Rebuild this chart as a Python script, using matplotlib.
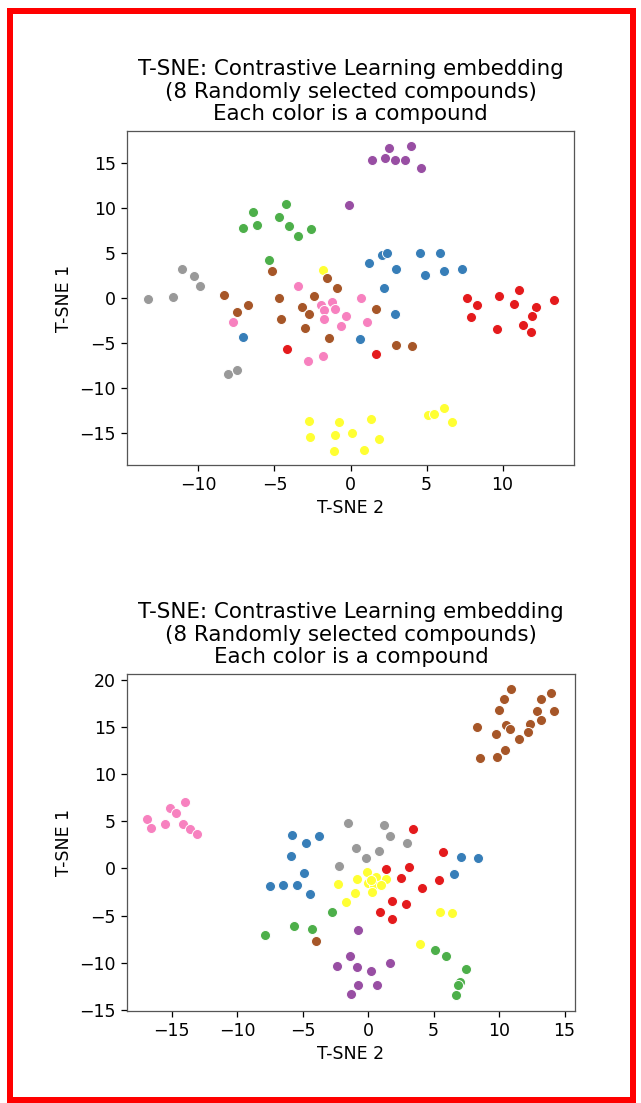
import matplotlib
matplotlib.use("Agg")
import matplotlib.pyplot as plt
from matplotlib.patches import Rectangle

# ---------------- data ----------------
compounds = ["red", "blue", "green", "purple", "yellow", "brown", "pink", "gray"]
palette = {"red": "#e41a1c", "blue": "#377eb8", "green": "#4daf4a", "purple": "#984ea3",
           "yellow": "#ffff33", "brown": "#a65628", "pink": "#f781bf", "gray": "#999999"}

title_text = "T-SNE: Contrastive Learning embedding\n(8 Randomly selected compounds)\nEach color is a compound"
xlabel_text = "T-SNE 2"
ylabel_text = "T-SNE 1"

# top panel
top_purple_x = [1.44, 2.25, 2.54, 2.91, 3.57, 4.0, 4.66, -0.11]
top_purple_y = [15.4, 15.6, 16.7, 15.4, 15.4, 16.9, 14.5, 10.4]
top_green_x = [-6.4, -4.25, -4.71, -6.18, -7.1, -4.05, -3.46, -2.61, -5.39]
top_green_y = [9.6, 10.5, 9.1, 8.2, 7.8, 8.0, 6.9, 7.7, 4.3]
top_blue_x = [1.2, 2.08, 2.37, 3.02, 4.55, 5.91, 4.93, 6.13, 7.36, 2.21, -7.06, 0.61, 2.91]
top_blue_y = [3.9, 4.8, 5.1, 3.3, 5.0, 5.1, 2.6, 3.0, 3.3, 1.2, -4.3, -4.5, -1.7]
top_gray_x = [-11.06, -10.3, -9.9, -13.3, -11.7, -8.08, -7.49]
top_gray_y = [3.3, 2.5, 1.4, -0.1, 0.2, -8.4, -7.9]
top_yellow_x = [-1.84, -2.72, -0.77, 1.38, -2.67, -1.03, 0.13, -1.08, 0.89, 1.88, 5.1, 5.47, 6.13, 6.68]
top_yellow_y = [3.2, -13.6, -13.7, -13.4, -15.4, -15.2, -14.9, -16.9, -16.8, -15.6, -13.0, -12.8, -12.2, -13.7]
top_brown_x = [-5.19, -1.54, -0.88, -8.32, -4.69, -2.41, -6.77, -7.45, -3.22, -2.72, -4.58, -3.0, -1.43, 1.66, 3.02, 4.05]
top_brown_y = [3.0, 2.3, 1.2, 0.4, 0.1, 0.3, -0.7, -1.5, -0.9, -1.7, -2.3, -3.3, -4.4, -1.2, -5.2, -5.3]
top_pink_x = [-3.48, 0.68, -7.75, -1.95, -1.21, -1.73, -0.99, -1.75, -0.31, -0.64, 1.09, -2.79, -1.84]
top_pink_y = [1.4, 0.1, -2.6, -0.7, -0.4, -1.3, -1.2, -2.3, -1.9, -3.1, -2.6, -6.9, -6.4]
top_red_x = [-4.17, 1.71, 7.68, 8.32, 7.95, 9.76, 10.73, 11.08, 12.23, 11.95, 11.34, 11.89, 9.63, 13.38]
top_red_y = [-5.6, -6.2, 0.0, -0.7, -2.1, 0.3, -0.6, 0.9, -1.0, -1.9, -3.0, -3.75, -3.4, -0.2]

# bottom panel
bot_brown_x = [10.95, 10.36, 10.0, 8.32, 10.51, 10.87, 9.75, 11.5, 10.44, 8.53, 9.85, 14.0, 13.18, 12.9, 14.23, 12.34, 13.24, 12.21, -3.99]
bot_brown_y = [19.0, 17.9, 16.8, 15.0, 15.2, 14.8, 14.2, 13.7, 12.6, 11.7, 11.8, 18.6, 17.9, 16.7, 16.7, 15.3, 15.7, 14.5, -7.7]
bot_pink_x = [-13.99, -15.14, -14.63, -16.87, -16.59, -15.47, -14.12, -13.61, -13.02]
bot_pink_y = [7.0, 6.4, 5.9, 5.2, 4.3, 4.7, 4.7, 4.2, 3.7]
bot_blue_x = [-5.77, -4.76, -3.74, -5.9, -4.89, -7.45, -6.49, -5.39, -4.4, 7.13, 8.4, 6.56]
bot_blue_y = [3.5, 2.7, 3.4, 1.3, -0.5, -1.9, -1.7, -1.7, -2.7, 1.2, 1.1, -0.6]
bot_gray_x = [-1.53, 1.2, 1.71, 2.98, -0.94, 0.84, -0.18, -2.21]
bot_gray_y = [4.8, 4.6, 3.4, 2.7, 2.2, 1.8, 1.1, 0.3]
bot_red_x = [3.44, 5.73, 1.4, 3.13, 2.55, 5.4, 4.12, 1.83, 2.93, 0.89, 1.83]
bot_red_y = [4.2, 1.7, -0.1, 0.2, -1.0, -1.2, -2.1, -3.5, -3.8, -4.6, -5.4]
bot_yellow_x = [-0.08, -0.81, 0.64, 1.35, 0.0, 0.46, 1.02, -2.29, -0.96, 0.34, -1.7, 5.53, 6.44, 4.0, 0.2]
bot_yellow_y = [-0.4, -1.1, -0.9, -1.1, -1.5, -1.7, -1.8, -1.6, -2.6, -2.5, -3.6, -4.6, -4.7, -8.0, -1.2]
bot_green_x = [-2.72, -5.67, -4.24, -7.89, 5.09, 5.98, 7.51, 7.05, 6.87, 6.69]
bot_green_y = [-4.6, -6.1, -6.4, -7.1, -8.6, -9.3, -10.6, -12.0, -12.3, -13.4]
bot_purple_x = [-0.76, -1.4, -2.37, -0.84, 0.26, 1.71, -0.76, 0.69, -1.32]
bot_purple_y = [-6.5, -9.3, -10.3, -10.4, -10.9, -10.0, -12.3, -12.3, -13.3]

top_series = {
    "red": (top_red_x, top_red_y), "blue": (top_blue_x, top_blue_y),
    "green": (top_green_x, top_green_y), "purple": (top_purple_x, top_purple_y),
    "yellow": (top_yellow_x, top_yellow_y), "brown": (top_brown_x, top_brown_y),
    "pink": (top_pink_x, top_pink_y), "gray": (top_gray_x, top_gray_y),
}
bot_series = {
    "red": (bot_red_x, bot_red_y), "blue": (bot_blue_x, bot_blue_y),
    "green": (bot_green_x, bot_green_y), "purple": (bot_purple_x, bot_purple_y),
    "yellow": (bot_yellow_x, bot_yellow_y), "brown": (bot_brown_x, bot_brown_y),
    "pink": (bot_pink_x, bot_pink_y), "gray": (bot_gray_x, bot_gray_y),
}

# ---------------- figure ----------------
DPI = 114
W, H = 641, 1103
fig = plt.figure(figsize=(W / DPI, H / DPI), dpi=DPI)
fig.patch.set_facecolor("white")


def px_axes(l, t, r, b):
    return fig.add_axes([l / W, 1 - b / H, (r - l) / W, (b - t) / H])


ax1 = px_axes(127, 131, 574, 465)
ax2 = px_axes(127, 674, 575, 1011)

for ax, series, xlim, ylim in [(ax1, top_series, (-14.7, 14.7), (-18.5, 18.6)),
                               (ax2, bot_series, (-18.4, 15.8), (-15.1, 20.6))]:
    for c in compounds:
        xs, ys = series[c]
        ax.scatter(xs, ys, s=40, color=palette[c], edgecolor="white", linewidth=0.6, zorder=3)
    ax.set_xlim(*xlim)
    ax.set_ylim(*ylim)
    ax.set_title(title_text, fontsize=13.5, linespacing=1.14, pad=7)
    ax.set_xlabel(xlabel_text, fontsize=11, labelpad=3)
    ax.set_ylabel(ylabel_text, fontsize=11, labelpad=4)
    ax.tick_params(labelsize=11)
    for sp in ax.spines.values():
        sp.set_color("#555555")

# red frame around the whole picture
fig.patches.append(Rectangle((10 / W, 3 / H), (633 - 10) / W, (1092.5 - 3) / H,
                             transform=fig.transFigure, fill=False,
                             edgecolor="#ff0000", linewidth=6 * 72 / DPI, zorder=10))

fig.savefig("out.png", dpi=DPI, facecolor="white")
